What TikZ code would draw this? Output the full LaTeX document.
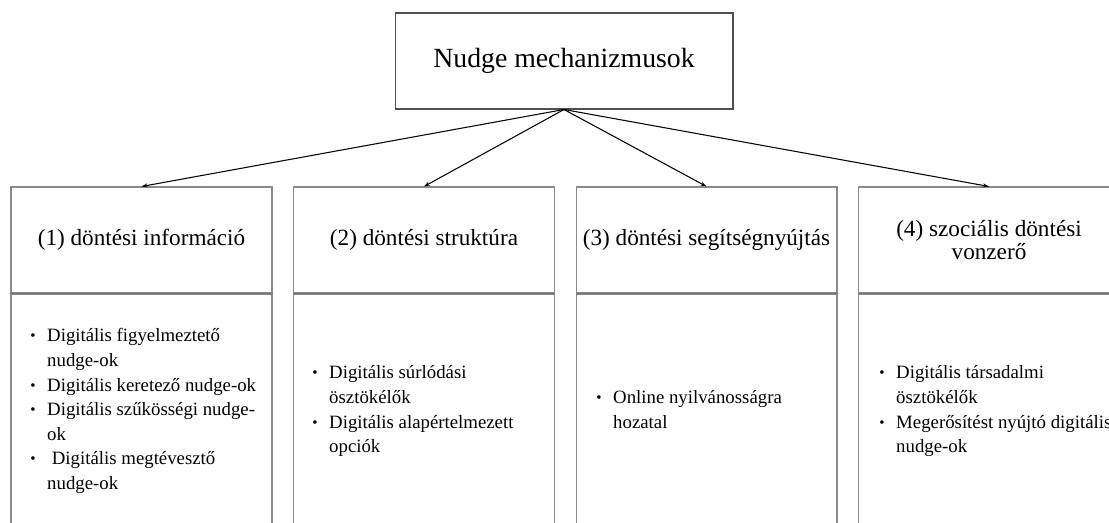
\documentclass[tikz,border=0pt]{standalone}
\usepackage{fontspec}
\setmainfont{Liberation Serif}
\usepackage{tikz}
\usetikzlibrary{arrows.meta}

\definecolor{boxgray}{HTML}{8A8A8A}
\definecolor{topgray}{HTML}{505050}
\newcommand{\mechfont}{\fontsize{15.8}{19}\selectfont}
\newcommand{\headfont}{\fontsize{13.2}{10.2}\selectfont}
\newcommand{\itemfont}{\fontsize{10.7}{14}\selectfont}
\newcommand{\bul}{\makebox[9.6pt][l]{\raisebox{0.06em}{\scalebox{0.8}{\textbullet}}}}

\begin{document}
\begin{tikzpicture}[x=0.02cm, y=-0.02cm,
    topbox/.style={draw=topgray, line width=0.6pt, minimum width=6.76cm, minimum height=1.92cm, font=\mechfont},
    headbox/.style={draw=boxgray, line width=0.6pt, minimum width=5.22cm, minimum height=2.12cm, align=center, font=\headfont},
    bodybox/.style={draw=boxgray, line width=0.6pt, minimum width=5.22cm, minimum height=5.4cm, anchor=north},
    items/.style={inner sep=0pt, anchor=base west, font=\itemfont},
    divider/.style={draw=topgray!80, line width=1.1pt},
    link/.style={-{Stealth[length=0.12cm, width=0.08cm]}, line width=0.6pt}]
    \useasboundingbox (0,0) rectangle (1109,523);
    \clip (0,0) rectangle (1109,523);
        \node[topbox] (mech) at (564,61) {Nudge mechanizmusok};
        \node[headbox] (info) at (141.5,240) {(1) döntési információ};
        \node[headbox] (struct) at (424,240) {(2) döntési struktúra};
        \node[headbox] (help) at (706.5,240) {(3) döntési segítségnyújtás};
        \node[headbox] (social) at (989,240) {(4) szociális döntési\\vonzerő};
        \node[bodybox] (infobody) at (info.south) {};
        \node[bodybox] (structbody) at (struct.south) {};
        \node[bodybox] (helpbody) at (help.south) {};
        \node[bodybox] (socialbody) at (social.south) {};
        \draw[divider] (info.south west) -- (info.south east);
        \draw[divider] (struct.south west) -- (struct.south east);
        \draw[divider] (help.south west) -- (help.south east);
        \draw[divider] (social.south west) -- (social.south east);
        \draw[link] (mech.south) -- (info.north);
        \draw[link] (mech.south) -- (struct.north);
        \draw[link] (mech.south) -- (help.north);
        \draw[link] (mech.south) -- (social.north);
        \node[items] (infolist) at (30,342) {\begin{tabular}[t]{@{}l@{}l@{}}
            \bul & Digitális figyelmeztető\\
                 & nudge-ok\\
            \bul & Digitális keretező nudge-ok\\
            \bul & Digitális szűkösségi nudge-\\
                 & ok\\
            \bul & \ Digitális megtévesztő\\
                 & nudge-ok
            \end{tabular}};
        \node[items] (structlist) at (312,379) {\begin{tabular}[t]{@{}l@{}l@{}}
            \bul & Digitális súrlódási\\
                 & ösztökélők\\
            \bul & Digitális alapértelmezett\\
                 & opciók
            \end{tabular}};
        \node[items] (helplist) at (596,404) {\begin{tabular}[t]{@{}l@{}l@{}}
            \bul & Online nyilvánosságra\\
                 & hozatal
            \end{tabular}};
        \node[items] (sociallist) at (879,379) {\begin{tabular}[t]{@{}l@{}l@{}}
            \bul & Digitális társadalmi\\
                 & ösztökélők\\
            \bul & Megerősítést nyújtó digitális\\
                 & nudge-ok
            \end{tabular}};
    \end{tikzpicture}
\end{document}
